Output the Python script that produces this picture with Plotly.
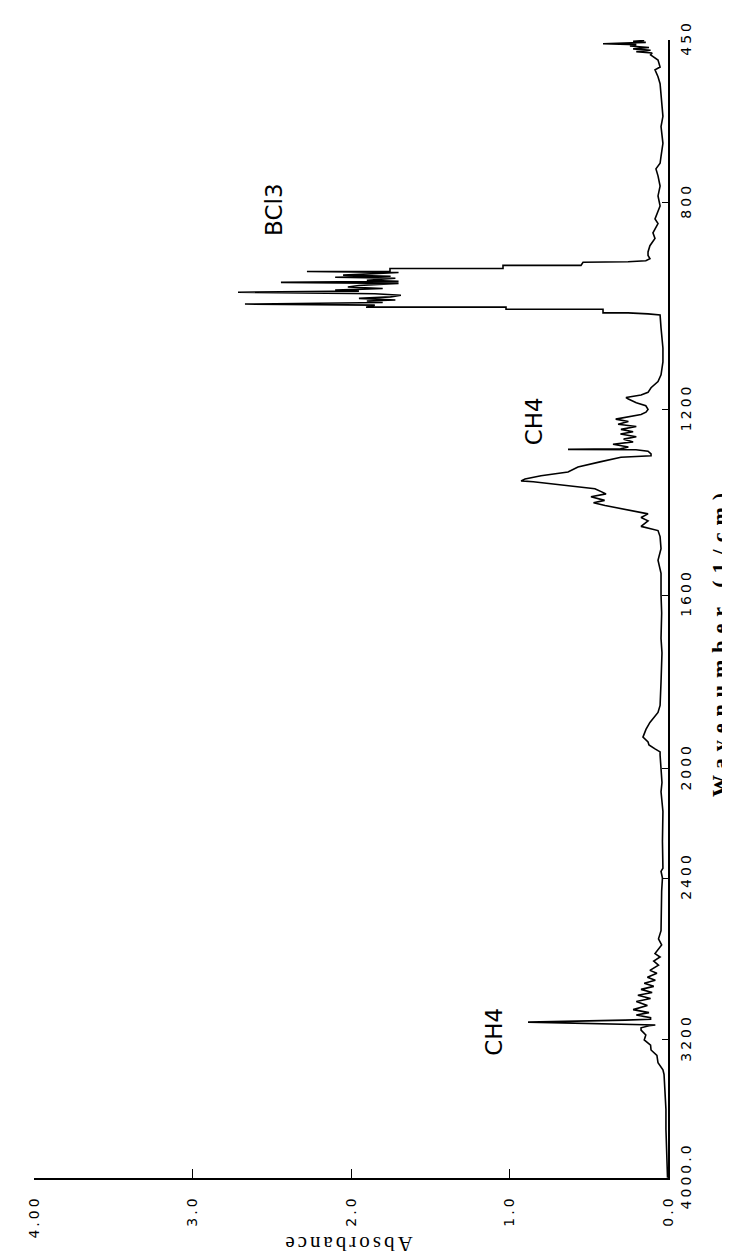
import numpy as np
import plotly.graph_objects as go

# ---- spectrum (wavenumber in 1/cm, absorbance) ----
WAVENUMBER = [
    451, 453, 455, 458, 460, 463, 466, 469, 472, 475, 478, 482, 493, 508, 514, 529,
    544, 565, 590, 614, 636, 672, 700, 715, 727, 742, 764, 785, 806, 819, 831, 840,
    858, 869, 883, 895, 902, 908, 912,
    914, 915, 921, 921, 927, 927, 933, 933, 935, 938, 940, 942, 944, 946, 950, 952,
    954, 956, 960, 963, 966, 969, 971, 973, 976, 979, 982, 985, 988, 990, 993, 996,
    998, 1002, 1002, 1006, 1006, 1013, 1013, 1015, 1017,
    1042, 1081, 1108, 1133, 1146, 1158, 1167, 1172, 1177, 1180, 1187, 1193, 1200,
    1206, 1211, 1216, 1221, 1226, 1232, 1237, 1243, 1248, 1253, 1259, 1264, 1270,
    1275, 1281, 1285, 1286, 1287, 1290, 1296, 1300, 1303, 1313, 1324, 1335, 1343,
    1350, 1354, 1356, 1360, 1365, 1371, 1382, 1388, 1396, 1401, 1407, 1418, 1425,
    1433, 1440, 1452, 1461, 1474,
    1500, 1525, 1553, 1600, 1641, 1700, 1733, 1800, 1854, 1870, 1893, 1909, 1920,
    1927, 1938, 1945, 1954, 1961, 1968, 2000, 2050, 2084, 2156, 2265, 2364, 2375,
    2400, 2464, 2562, 2660,
    2700, 2730, 2773, 2790, 2810, 2830, 2856, 2870, 2890, 2905, 2920, 2935, 2950,
    2965, 2979, 2995, 3010, 3030, 3050, 3065, 3077, 3090, 3098, 3102, 3112, 3118,
    3122, 3126, 3130, 3140, 3151, 3175, 3200, 3230, 3258, 3290, 3332, 3373, 3400,
    3488, 3603, 3718, 3833, 3948, 3998,
]
ABSORBANCE = [
    0.15, 0.22, 0.14, 0.41, 0.20, 0.24, 0.12, 0.22, 0.11, 0.20, 0.10, 0.11, 0.063, 0.050, 0.082, 0.063,
    0.050, 0.044, 0.035, 0.032, 0.044, 0.032, 0.044, 0.050, 0.076, 0.063, 0.050, 0.063, 0.050, 0.069, 0.082, 0.063,
    0.095, 0.082, 0.114, 0.126, 0.126, 0.114, 0.140,
    0.252, 0.536, 0.549, 1.041, 1.041, 1.754, 1.754, 2.278, 1.70, 1.90, 2.05, 1.75, 2.10, 1.72, 1.90, 1.70,
    2.442, 1.70, 1.95, 2.02, 1.80, 2.10, 1.95, 2.713, 1.85, 1.685, 1.75, 1.95, 1.72, 1.90, 1.80, 2.669,
    1.85, 1.905, 1.022, 1.022, 0.410, 0.410, 0.252, 0.126, 0.050,
    0.044, 0.032, 0.032, 0.044, 0.063, 0.107, 0.126, 0.170, 0.265, 0.250, 0.200, 0.140, 0.126,
    0.139, 0.170, 0.250, 0.330, 0.250, 0.315, 0.200, 0.297, 0.220, 0.300, 0.200, 0.280, 0.220,
    0.347, 0.250, 0.300, 0.631, 0.202, 0.126, 0.107, 0.107, 0.297, 0.429, 0.568, 0.631, 0.801,
    0.902, 0.927, 0.850, 0.738, 0.620, 0.461, 0.391, 0.486, 0.400, 0.470, 0.397, 0.240, 0.126,
    0.170, 0.126, 0.170, 0.063, 0.050,
    0.044, 0.063, 0.044, 0.044, 0.040, 0.044, 0.038, 0.044, 0.050, 0.063, 0.114, 0.139, 0.150,
    0.158, 0.126, 0.120, 0.082, 0.050, 0.050, 0.044, 0.038, 0.044, 0.032, 0.035, 0.032, 0.044,
    0.035, 0.040, 0.044, 0.044,
    0.060, 0.040, 0.082, 0.050, 0.090, 0.060, 0.114, 0.070, 0.130, 0.080, 0.150, 0.090, 0.170,
    0.100, 0.190, 0.110, 0.200, 0.130, 0.220, 0.120, 0.200, 0.110, 0.110, 0.271, 0.883, 0.587,
    0.271, 0.080, 0.120, 0.170, 0.170, 0.140, 0.150, 0.110, 0.107, 0.070, 0.063, 0.032, 0.025,
    0.019, 0.013, 0.013, 0.010, 0.006, 0.003,
]
assert len(WAVENUMBER) == len(ABSORBANCE)

# ---- axis ticks ----
WN_TICKS = [450, 800, 1200, 1600, 2000, 2400, 3200, 4000]
WN_TICK_LABELS = ["450", "800", "1200", "1600", "2000", "2400", "3200", "4000.0"]
ABS_TICKS = [0, 1, 2, 3, 4]
ABS_TICK_LABELS = ["0.0", "1.0", "2.0", "3.0", "4.00"]

# instrument's non-linear wavenumber scale: relative length along the axis at each tick
SCALE_LENGTH = [0, 164, 372, 559, 734, 844, 1007, 1146]

# ---- peak labels ----
PEAK_NAMES = ["BCl3", "CH4", "CH4"]
PEAK_WN = [813, 1226, 3161]
PEAK_ABS = [2.49, 0.84, 1.10]


def wn_scale(w):
    return np.interp(np.asarray(w, dtype=float), WN_TICKS, SCALE_LENGTH)


def spaced(t, s):
    return f'<span style="letter-spacing:{s}px">{t}</span>'


fig = go.Figure(
    go.Scatter(
        x=ABSORBANCE,
        y=wn_scale(WAVENUMBER),
        mode="lines",
        line=dict(color="black", width=1.6),
        hoverinfo="skip",
    )
)

tickfont = dict(family="DejaVu Sans", size=14, color="black")

fig.update_layout(
    width=730,
    height=1260,
    margin=dict(l=26, r=70, t=23, b=90),
    paper_bgcolor="white",
    plot_bgcolor="white",
    showlegend=False,
    xaxis=dict(
        range=[4, 0],
        tickvals=ABS_TICKS,
        ticktext=[spaced(t, 3) for t in ABS_TICK_LABELS],
        tickangle=-90,
        ticks="inside",
        ticklen=9,
        tickwidth=1.3,
        tickcolor="black",
        showline=True,
        linecolor="black",
        linewidth=1.6,
        showgrid=False,
        zeroline=False,
        tickfont=tickfont,
        ticklabelstandoff=10,
    ),
    yaxis=dict(
        range=[SCALE_LENGTH[-1], SCALE_LENGTH[0]],
        side="right",
        tickvals=wn_scale(WN_TICKS),
        ticktext=[spaced(t, 3) for t in WN_TICK_LABELS],
        tickangle=-90,
        ticks="inside",
        ticklen=6,
        tickwidth=1.3,
        tickcolor="black",
        showline=True,
        linecolor="black",
        linewidth=1.6,
        showgrid=False,
        zeroline=False,
        tickfont=tickfont,
        ticklabelstandoff=4,
    ),
)

for name, w, a in zip(PEAK_NAMES, PEAK_WN, PEAK_ABS):
    fig.add_annotation(
        x=a, y=float(wn_scale(w)), xref="x", yref="y",
        text=name, textangle=-90, showarrow=False,
        xanchor="center", yanchor="middle",
        font=dict(family="DejaVu Sans", size=23, color="black"),
    )

fig.add_annotation(
    x=(711 - 26) / 634, y=0.471, xref="paper", yref="paper",
    text=spaced("Wavenumber (1/cm)", 7), textangle=-90, showarrow=False,
    xanchor="center", yanchor="middle",
    font=dict(family="Liberation Serif", size=22, color="black", weight="bold"),
)
fig.add_annotation(
    x=0.495, y=1 - (1236 - 23) / 1147, xref="paper", yref="paper",
    text=spaced("Absorbance", 3), textangle=180, showarrow=False,
    xanchor="center", yanchor="middle",
    font=dict(family="Liberation Serif", size=21, color="black"),
)

fig.write_html("out.html")
